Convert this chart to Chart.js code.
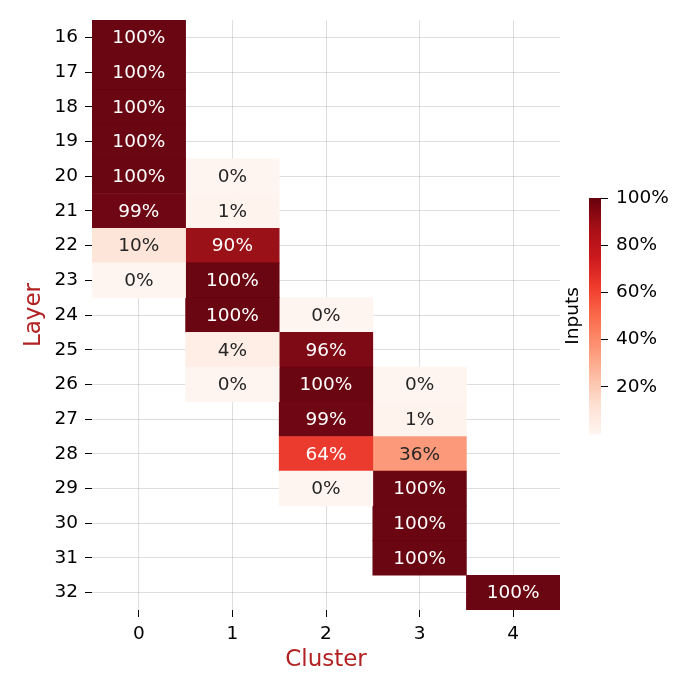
<!DOCTYPE html>
<html>
<head>
<meta charset="utf-8">
<script src="https://cdn.jsdelivr.net/npm/chart.js@4.4.1/dist/chart.umd.min.js"></script>
<style>
  html, body { margin: 0; padding: 0; background: #fff; }
  #wrap { position: relative; width: 698px; height: 698px; }
  #heat { position: absolute; left: 0; top: 0; }
  #cbar { position: absolute; left: 560px; top: 180px; }
</style>
</head>
<body>
<div id="wrap">
  <canvas id="heat" width="698" height="698"></canvas>
  <canvas id="cbar" width="138" height="270"></canvas>
</div>
<script>
// Heatmap data: share of inputs (%) per layer and cluster
var layers = ['16', '17', '18', '19', '20', '21', '22', '23', '24', '25', '26', '27', '28', '29', '30', '31', '32'];
var clusters = [0, 1, 2, 3, 4];
var cluster0 = [100, 100, 100, 100, 100, 99, 10, 0, null, null, null, null, null, null, null, null, null];
var cluster1 = [null, null, null, null, 0, 1, 90, 100, 100, 4, 0, null, null, null, null, null, null];
var cluster2 = [null, null, null, null, null, null, null, null, 0, 96, 100, 99, 64, 0, null, null, null];
var cluster3 = [null, null, null, null, null, null, null, null, null, null, 0, 1, 36, 100, 100, 100, null];
var cluster4 = [null, null, null, null, null, null, null, null, null, null, null, null, null, null, null, null, 100];
var colorTicks = [20, 40, 60, 80, 100];

var clusterValues = [cluster0, cluster1, cluster2, cluster3, cluster4];

// matplotlib "Reds" colormap stops
var redsStops = ['#fff5f0', '#fee0d2', '#fcbba1', '#fc9272', '#fb6a4a', '#ef3b2c', '#cb181d', '#a50f15', '#67000d'];

function hexToRgb(h) {
    return [parseInt(h.substr(1, 2), 16), parseInt(h.substr(3, 2), 16), parseInt(h.substr(5, 2), 16)];
}

function reds(t, alpha) {
    t = Math.max(0, Math.min(1, t));
    var pos = t * (redsStops.length - 1);
    var i = Math.min(Math.floor(pos), redsStops.length - 2);
    var f = pos - i;
    var a = hexToRgb(redsStops[i]), b = hexToRgb(redsStops[i + 1]);
    var c = [0, 1, 2].map(function(k) { return Math.round(a[k] + (b[k] - a[k]) * f); });
    return 'rgba(' + c[0] + ',' + c[1] + ',' + c[2] + ',' + (alpha == null ? 1 : alpha) + ')';
}

Chart.defaults.font.family = 'DejaVu Sans';
Chart.defaults.font.size = 18.5;
Chart.defaults.color = '#000';

var gridColor = 'rgba(0,0,0,0.13)';
var titleColor = '#b22222';

var datasets = clusterValues.map(function(vals, c) {
    return {
        label: 'Cluster ' + c,
        data: vals.map(function(v) { return v === null ? null : [c - 0.5, c + 0.5]; }),
        backgroundColor: function(ctx) {
            var v = clusterValues[ctx.datasetIndex][ctx.dataIndex];
            return reds(v / 100, 0.98);
        },
        borderWidth: 0,
        grouped: false,
        barPercentage: 1,
        categoryPercentage: 1
    };
});

var cellLabels = {
    id: 'cellLabels',
    afterDatasetsDraw: function(chart) {
        var ctx = chart.ctx;
        ctx.save();
        ctx.font = '18.5px "DejaVu Sans"';
        ctx.textAlign = 'center';
        ctx.textBaseline = 'middle';
        chart.data.datasets.forEach(function(ds, di) {
            chart.getDatasetMeta(di).data.forEach(function(el, i) {
                var v = clusterValues[di][i];
                if (v === null) return;
                var p = el.getCenterPoint();
                ctx.fillStyle = v >= 50 ? '#ffffff' : '#262626';
                ctx.fillText(v + '%', p.x, p.y + 1);
            });
        });
        ctx.restore();
    }
};

new Chart(document.getElementById('heat'), {
    type: 'bar',
    data: { labels: layers, datasets: datasets },
    options: {
        indexAxis: 'y',
        responsive: false,
        animation: false,
        events: [],
        layout: { padding: { left: 0, top: 20, right: 138, bottom: 0 } },
        plugins: { legend: { display: false }, tooltip: { enabled: false } },
        scales: {
            x: {
                type: 'linear',
                min: -0.5,
                max: 4.5,
                afterBuildTicks: function(scale) {
                    scale.ticks = clusters.map(function(c) { return { value: c }; });
                },
                afterFit: function(scale) { scale.height = 88; },
                ticks: { padding: 6, callback: function(v) { return v; } },
                grid: { color: gridColor, tickColor: '#000', tickLength: 7, lineWidth: 1 },
                border: { display: false },
                title: { display: true, text: 'Cluster', color: titleColor, font: { size: 23 }, padding: { top: 0, bottom: 24 } }
            },
            y: {
                type: 'category',
                afterFit: function(scale) { scale.width = 92; },
                ticks: { padding: 7 },
                grid: { offset: false, color: gridColor, tickColor: '#000', tickLength: 7, lineWidth: 1 },
                border: { display: false },
                title: { display: true, text: 'Layer', color: titleColor, font: { size: 23 }, padding: { top: 20, bottom: 0 } }
            }
        }
    },
    plugins: [cellLabels]
});

// Colorbar
function cbarFill(ctx) {
    var area = ctx.chart.chartArea;
    if (!area) return null;
    var g = ctx.chart.ctx.createLinearGradient(0, area.bottom, 0, area.top);
    redsStops.forEach(function(s, i) { g.addColorStop(i / (redsStops.length - 1), s); });
    return g;
}

new Chart(document.getElementById('cbar'), {
    type: 'bar',
    data: {
        labels: ['Inputs'],
        datasets: [{ data: [[0, 100]], backgroundColor: cbarFill, borderWidth: 0, barPercentage: 1, categoryPercentage: 1 }]
    },
    options: {
        responsive: false,
        animation: false,
        events: [],
        layout: { padding: { left: 0, top: 18, right: 0, bottom: 16 } },
        plugins: { legend: { display: false }, tooltip: { enabled: false } },
        scales: {
            x: { display: false },
            y: {
                position: 'right',
                min: 0,
                max: 100,
                afterBuildTicks: function(scale) {
                    scale.ticks = colorTicks.map(function(v) { return { value: v }; });
                },
                afterFit: function(scale) {
                    scale.width = 97;
                    scale.paddingTop = 0;
                    scale.paddingBottom = 0;
                },
                ticks: { padding: 8, callback: function(v) { return v + '%'; } },
                grid: { drawOnChartArea: false, tickColor: '#000', tickLength: 7 },
                border: { display: false }
            },
            yl: {
                position: 'left',
                min: 0,
                max: 100,
                afterFit: function(scale) {
                    scale.width = 29;
                    scale.paddingTop = 0;
                    scale.paddingBottom = 0;
                },
                ticks: { display: false },
                grid: { display: false },
                border: { display: false },
                title: { display: true, text: 'Inputs', color: '#000', font: { size: 18.5 }, padding: { top: 2, bottom: 0 } }
            }
        }
    }
});
</script>
</body>
</html>
